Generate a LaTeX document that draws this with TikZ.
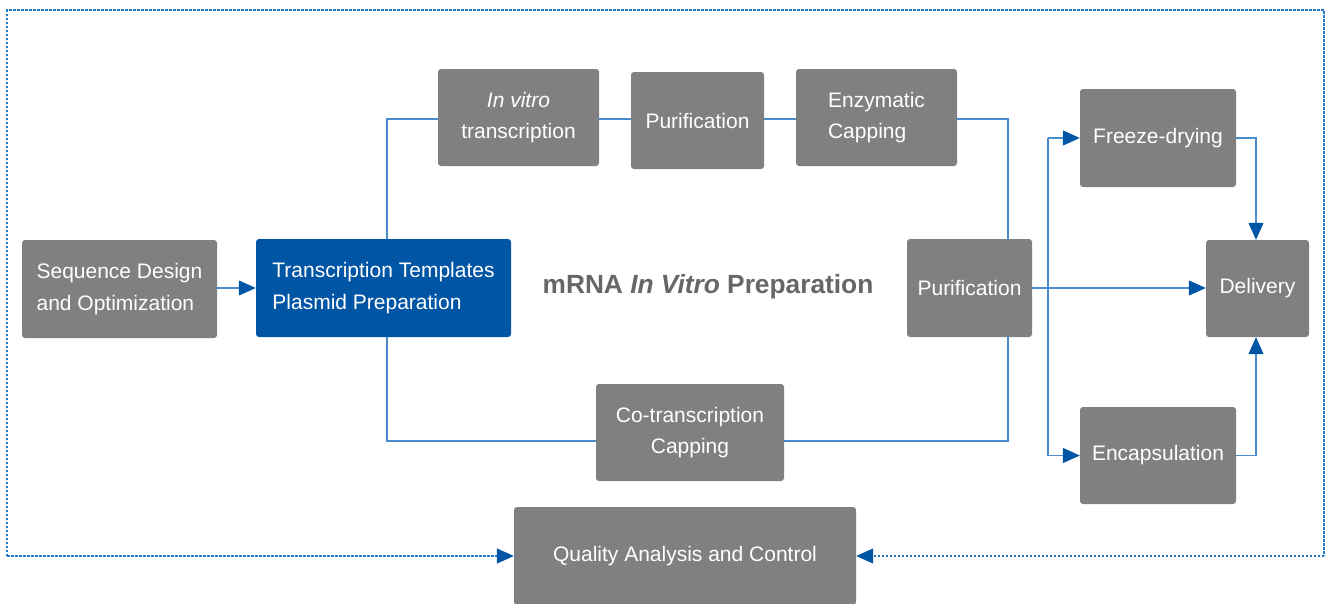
\documentclass[tikz,border=0pt]{standalone}
\usepackage{fontspec}
\setmainfont{Liberation Sans}
\usetikzlibrary{arrows.meta}
\definecolor{boxgray}{HTML}{808080}
\definecolor{boxblue}{HTML}{0055A5}
\definecolor{lineblue}{HTML}{4A8CCB}
\definecolor{arrowblue}{HTML}{0055A5}
\definecolor{dotblue}{HTML}{1F7BC8}
\definecolor{titlegray}{HTML}{666666}
\tikzset{
  box/.style={draw=none, fill=boxgray, rounded corners=3pt, text=white, inner sep=0pt,
    font=\fontsize{21}{31.5}\selectfont, align=center},
  ln/.style={draw=lineblue, line width=1.2pt},
  arr/.style={ln, -{Triangle[length=17pt,width=15pt,fill=arrowblue,color=arrowblue]}},
  dotln/.style={draw=dotblue, line width=1.2pt, dash pattern=on 2.5pt off 1.5pt},
  darr/.style={dotln, -{Triangle[length=17pt,width=15pt,fill=arrowblue,color=arrowblue]}}
}
\begin{document}
\begin{tikzpicture}[x=1pt,y=-1pt]
\useasboundingbox (0,0) rectangle (1326,603);
\begin{scope}
\clip (0,0) rectangle (1326,603);
\node[box, minimum width=195pt, minimum height=98pt, align=left] (seq) at (119.5,289) {Sequence Design\\and Optimization};
\node[box, fill=boxblue, minimum width=255pt, minimum height=98pt, align=left] (tt) at (383.5,288) {Transcription Templates\\Plasmid Preparation};
\node[box, minimum width=161pt, minimum height=97pt] (ivt) at (518.5,117.5) {\textit{In vitro}\\transcription};
\node[box, minimum width=133pt, minimum height=97pt] (pur1) at (697.5,120.5) {Purification};
\node[box, minimum width=161pt, minimum height=97pt, align=left] (enz) at (876.5,117.5) {Enzymatic\\Capping};
\node[box, minimum width=125pt, minimum height=98pt] (pur2) at (969.5,288) {Purification};
\node[box, minimum width=188pt, minimum height=97pt] (cot) at (690,432.5) {Co-transcription\\Capping};
\node[box, minimum width=156pt, minimum height=98pt] (fd) at (1158,138) {Freeze-drying};
\node[box, minimum width=156pt, minimum height=97pt] (enc) at (1158,455.5) {Encapsulation};
\node[box, minimum width=103pt, minimum height=97pt] (del) at (1257.5,288.5) {Delivery};
\node[box, minimum width=342pt, minimum height=98pt] (qa) at (685,556) {Quality Analysis and Control};
\end{scope}
\node[font=\fontsize{26.3}{30}\selectfont\bfseries, text=titlegray] (title) at (708,287) {mRNA \textit{In Vitro} Preparation};

\coordinate (xl) at (387,0);
\coordinate (xr) at (1008,0);
\coordinate (xb) at (1048,0);
\coordinate (xd) at (1256,0);
\coordinate (ytop) at (0,119);
\coordinate (ybot) at (0,441);

\draw[arr] (seq.east |- tt.west) -- (tt.west);
\draw[ln] (tt.north -| xl) |- (ivt.west |- ytop);
\draw[ln] (ivt.east |- ytop) -- (pur1.west |- ytop);
\draw[ln] (pur1.east |- ytop) -- (enz.west |- ytop);
\draw[ln] (enz.east |- ytop) -| (pur2.north -| xr);
\draw[ln] (tt.south -| xl) |- (cot.west |- ybot);
\draw[ln] (cot.east |- ybot) -| (pur2.south -| xr);
\draw[arr] (pur2.east) -- (del.west |- pur2.east);
\draw[ln] (xb |- fd.west) -- (xb |- enc.west);
\draw[arr] (xb |- fd.west) -- (fd.west);
\draw[arr] (xb |- enc.west) -- (enc.west);
\draw[arr] (fd.east) -| (del.north -| xd);
\draw[arr] (enc.east) -| (del.south -| xd);

\coordinate (bl) at (7,556);
\coordinate (tl) at (7,10);
\coordinate (tr) at (1324,10);
\coordinate (br) at (1324,556);
\draw[dotln] (bl) -- (tl) -- (tr) -- (br);
\draw[darr] (bl) -- (qa.west);
\draw[darr] (br) -- (qa.east);
\end{tikzpicture}
\end{document}
